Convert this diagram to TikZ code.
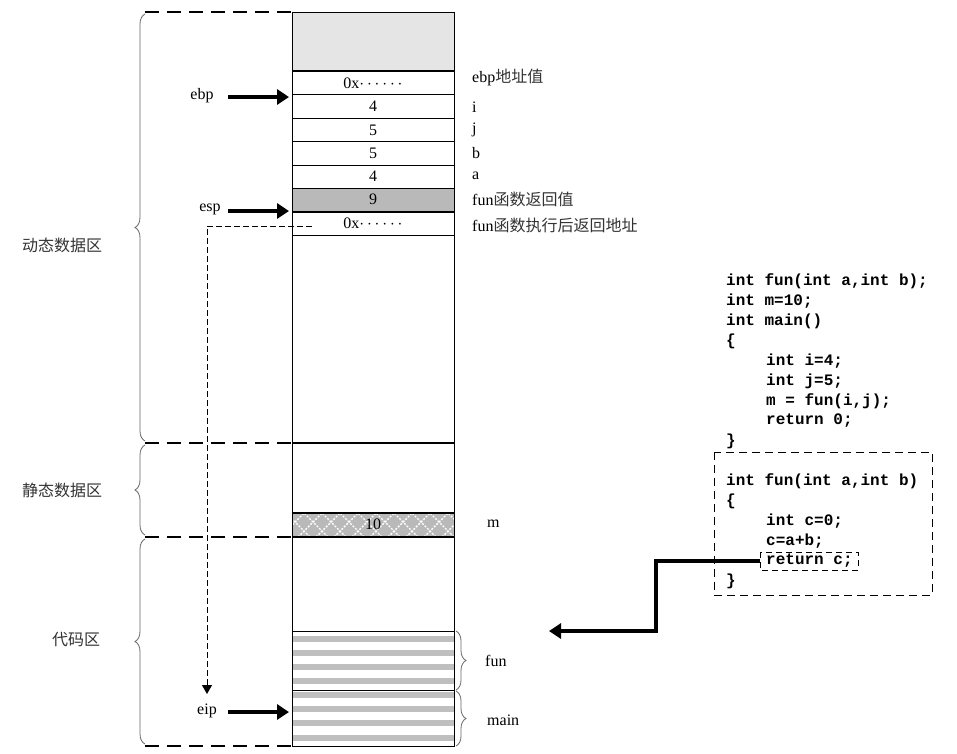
\documentclass[tikz,border=0pt]{standalone}
\usepackage{fontspec}
\setmainfont{Liberation Serif}
\newfontfamily\cjk{Noto Sans CJK SC}
\newfontfamily\mono{Liberation Mono}
\usetikzlibrary{decorations.pathreplacing,arrows.meta}
\begin{document}
\begin{tikzpicture}[x=1pt,y=-1pt,
  lbl/.style={anchor=west,inner sep=0pt,font=\fontsize{16}{16}\selectfont},
  cell/.style={inner sep=0pt,font=\fontsize{16}{16}\selectfont},
  cj/.style={inner sep=0pt,font=\cjk\fontsize{16}{16}\selectfont,gray!40!black},
  code/.style={anchor=west,inner sep=0pt,font=\mono\bfseries\fontsize{16}{16}\selectfont},
  reg/.style={line width=2.6pt,dash pattern=on 14pt off 8pt},
  ptr/.style={line width=3.2pt,-{Triangle[length=12pt,width=15pt]}},
  lbrace/.style={decorate,decoration={brace,amplitude=10pt},draw=gray!80!black,line width=0.8pt}]
\useasboundingbox (0,0) rectangle (957,753);
% column
\fill[gray!20] (292,12) rectangle (454,71);
\fill[gray!55] (292,188) rectangle (454,212);
\fill[gray!55] (292,513) rectangle (454,537);
\begin{scope}
\clip (292,513) rectangle (454,537);
\foreach \k in {0,...,12}{
  \draw[white,line width=1.4pt,dash pattern=on 2pt off 1.5pt] (292+\k*18-30,537)--++(30,-30);
  \draw[white,line width=1.4pt,dash pattern=on 2pt off 1.5pt] (292+\k*18,537)--++(-30,-30);}
\end{scope}
\foreach \y in {636,650,664,678,692,706,720,735}{\fill[gray!50] (292,\y) rectangle (454,\y+6);}
\draw[line width=1pt] (292,12) rectangle (454,746);
\foreach \y in {94,118,141,165,188,235,631,690}{\draw[line width=1pt] (292,\y)--(454,\y);}
\foreach \y in {71,212,443,513,537}{\draw[line width=2pt] (292,\y)--(454,\y);}
\node[cell] (c1) at (373,83) {0x$\cdots\cdots$};
\node[cell] (c2) at (373,106) {4};
\node[cell] (c3) at (373,130) {5};
\node[cell] (c4) at (373,153) {5};
\node[cell] (c5) at (373,176) {4};
\node[cell] (c6) at (373,199) {9};
\node[cell] (c7) at (373,223) {0x$\cdots\cdots$};
\node[cell] (c8) at (373,524) {10};
% region lines
\foreach \y in {12,443,537,746}{\draw[reg] (145,\y)--(292,\y);}
\draw[lbrace] (145,441)--(145,14);
\draw[lbrace] (145,535)--(145,445);
\draw[lbrace] (145,744)--(145,539);
\node[cj] (d1) at (62,245) {动态数据区};
\node[cj] (d2) at (62,490) {静态数据区};
\node[cj] (d3) at (76,640) {代码区};
\draw[lbrace] (456,631)--(456,690);
\draw[lbrace] (456,691)--(456,746);
% pointers
\node[cell] (ebp) at (202,96) {ebp};
\node[cell] (esp) at (210,209) {esp};
\node[cell] (eip) at (207,711) {eip};
\coordinate (pe) at (289,97); \coordinate (ps) at (289,211); \coordinate (pi) at (289,712);
\draw[ptr] (228,97)--(pe);
\draw[ptr] (228,211)--(ps);
\draw[ptr] (228,712)--(pi);
\coordinate (ds) at (312,226); \coordinate (de) at (207,694);
\draw[line width=0.9pt,dash pattern=on 6pt off 3pt,-{Triangle[length=9pt,width=10pt]}] (ds)-|(de);
% right labels
\node[lbl] (r1) at (472,77) {ebp{\cjk\color{gray!40!black}地址值}};
\node[lbl] (r2) at (472,107) {i};
\node[lbl] (r3) at (472,130) {j};
\node[lbl] (r4) at (472,153) {b};
\node[lbl] (r5) at (472,176) {a};
\node[lbl] (r6) at (472,199) {fun{\cjk\color{gray!40!black}函数返回值}};
\node[lbl] (r7) at (472,225) {fun{\cjk\color{gray!40!black}函数执行后返回地址}};
\node[lbl] (rm) at (487,524) {m};
\node[lbl] (rf) at (485,661) {fun};
\node[lbl] (rmain) at (487,720) {main};
% code
\node[code] at (726,281) {int fun(int a,int b);};
\node[code] at (726,301) {int m=10;};
\node[code] at (726,321) {int main()};
\node[code] at (726,341) {\{};
\node[code] at (766,361) {int i=4;};
\node[code] at (766,381) {int j=5;};
\node[code] at (766,401) {m = fun(i,j);};
\node[code] at (766,421) {return 0;};
\node[code] at (726,441) {\}};
\draw[line width=0.9pt,dash pattern=on 8pt off 5pt] (714,452) rectangle (932,595);
\node[code] at (726,481) {int fun(int a,int b)};
\node[code] at (726,501) {\{};
\node[code] at (766,521) {int c=0;};
\node[code] at (766,541) {c=a+b;};
\node[code] (ret) at (766,561) {return c;};
\node[code] at (726,581) {\}};
\draw[line width=0.7pt,dash pattern=on 6pt off 4pt] (760,552) rectangle (858,570);
\coordinate (rs) at (760,561); \coordinate (rt) at (549,631);
\draw[line width=3.2pt,-{Triangle[length=12pt,width=15pt]}] (rs)--(656,561)--(656,631)--(rt);
\end{tikzpicture}
\end{document}
